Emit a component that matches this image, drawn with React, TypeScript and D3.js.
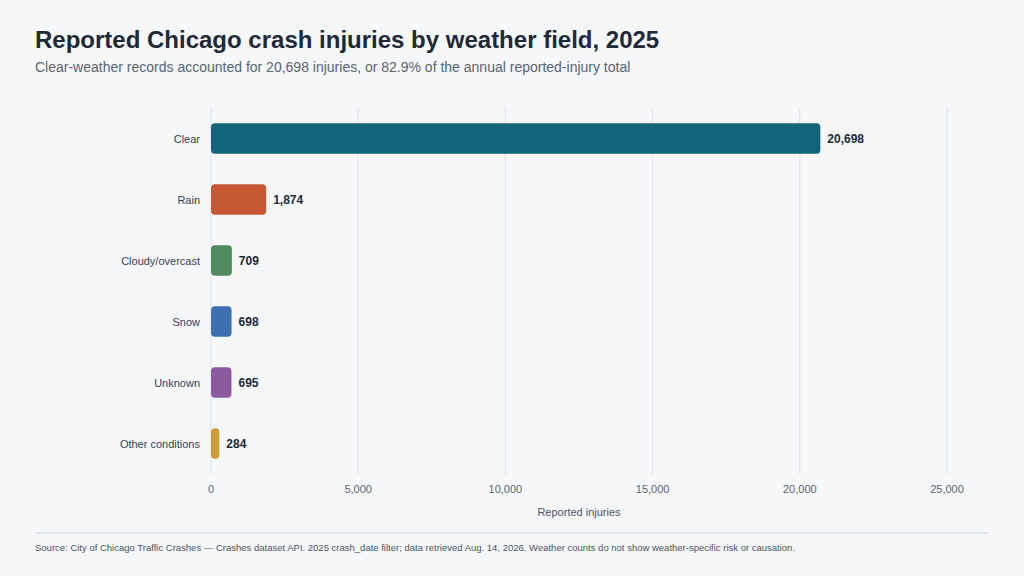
import * as d3 from "d3";

const categories = ["Clear", "Rain", "Cloudy/overcast", "Snow", "Unknown", "Other conditions"];
const injuries = [20698, 1874, 709, 698, 695, 284];
const colors = ["#13647a", "#c65833", "#4f8a61", "#3e6fb0", "#8a5b9f", "#d39b35"];
const xTicks = [0, 5000, 10000, 15000, 20000, 25000];

const W = 1024;
const H = 576;
const font = "Liberation Sans, Arial, sans-serif";

export default function App() {
  const x = d3.scaleLinear().domain([0, 25000]).range([211, 947]);
  const y = d3.scaleBand().domain(categories).range([108, 474]).paddingInner(0.5).paddingOuter(0.25);
  const fmt = d3.format(",");

  return (
    <svg width={W} height={H} style={{ position: "absolute", left: 0, top: 0 }} fontFamily={font}>
      <rect width={W} height={H} fill="#f5f7f9" />
      <text x={35} y={48} fontSize={24} fontWeight={700} fill="#1f2937">
        Reported Chicago crash injuries by weather field, 2025
      </text>
      <text x={35} y={72} fontSize={14} fill="#5b6470">
        Clear-weather records accounted for 20,698 injuries, or 82.9% of the annual reported-injury total
      </text>
      {xTicks.map((t) => (
        <g key={t}>
          <line x1={x(t)} x2={x(t)} y1={108} y2={474} stroke="#dfe3e8" strokeWidth={1} />
          <text x={x(t)} y={493} textAnchor="middle" fontSize={11} fill="#5b6470">
            {fmt(t)}
          </text>
        </g>
      ))}
      <text x={x(12500)} y={516} textAnchor="middle" fontSize={11} fill="#4b5563">
        Reported injuries
      </text>
      {categories.map((c, i) => {
        const yy = y(c)!;
        const bw = y.bandwidth();
        return (
          <g key={c}>
            <rect x={x(0)} y={yy} width={x(injuries[i]) - x(0)} height={bw} rx={4} fill={colors[i]} />
            <text x={x(0) - 11} y={yy + bw / 2 + 4} textAnchor="end" fontSize={11} fill="#374151">
              {c}
            </text>
            <text x={x(injuries[i]) + 7} y={yy + bw / 2 + 4} fontSize={12} fontWeight={700} fill="#1f2937">
              {fmt(injuries[i])}
            </text>
          </g>
        );
      })}
      <line x1={35} x2={989} y1={533} y2={533} stroke="#d5d9de" />
      <text x={35} y={551} fontSize={9.5} fill="#4b5563">
        Source: City of Chicago Traffic Crashes — Crashes dataset API. 2025 crash_date filter; data retrieved Aug. 14, 2026. Weather counts do not show weather-specific risk or causation.
      </text>
    </svg>
  );
}
